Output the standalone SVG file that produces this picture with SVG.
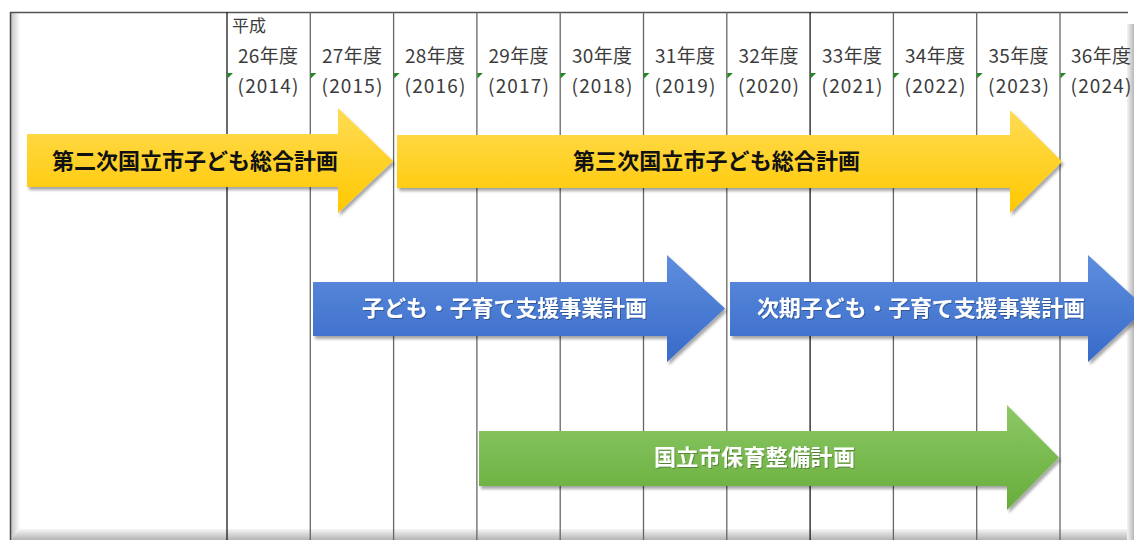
<svg xmlns="http://www.w3.org/2000/svg" width="1134" height="540" viewBox="0 0 1134 540">
  <defs>
    <linearGradient id="gYellow" x1="0" y1="0" x2="0" y2="1">
      <stop offset="0" stop-color="#FFDC55"/>
      <stop offset="1" stop-color="#FFC800"/>
    </linearGradient>
    <linearGradient id="gBlue" x1="0" y1="0" x2="0" y2="1">
      <stop offset="0" stop-color="#5E8EDE"/>
      <stop offset="1" stop-color="#386AC8"/>
    </linearGradient>
    <linearGradient id="gGreen" x1="0" y1="0" x2="0" y2="1">
      <stop offset="0" stop-color="#8CC866"/>
      <stop offset="1" stop-color="#67AD3B"/>
    </linearGradient>
    <linearGradient id="gLeft" x1="0" y1="0" x2="1" y2="0">
      <stop offset="0" stop-color="#c4c4c4"/>
      <stop offset="1" stop-color="#ffffff"/>
    </linearGradient>
    <linearGradient id="gBottom" x1="0" y1="0" x2="0" y2="1">
      <stop offset="0" stop-color="#f6f6f6"/>
      <stop offset="1" stop-color="#b4b4b4"/>
    </linearGradient>
    <linearGradient id="gRight" x1="0" y1="0" x2="1" y2="0">
      <stop offset="0" stop-color="#f4f4f4"/>
      <stop offset="1" stop-color="#b8b8b8"/>
    </linearGradient>
    <filter id="shadow" x="-5%" y="-10%" width="115%" height="130%">
      <feDropShadow dx="2" dy="3" stdDeviation="1.8" flood-color="#000" flood-opacity="0.35"/>
    </filter>
    <filter id="tshadow" x="-5%" y="-20%" width="110%" height="140%">
      <feDropShadow dx="1" dy="1" stdDeviation="0.6" flood-color="#000" flood-opacity="0.3"/>
    </filter>
  </defs>
  <style>
    .grid { stroke: #666; stroke-width: 1.3; fill: none; }
    .gridDark { stroke: #1a1a1a; stroke-width: 1.3; fill: none; }
    .hdr { font-family: "Noto Sans CJK JP", "Liberation Sans", sans-serif; font-size: 19px; fill: #3c3c3c; text-anchor: middle; }
    .era { font-family: "Noto Sans CJK JP", "Liberation Sans", sans-serif; font-size: 17px; fill: #3c3c3c; }
    .tri { fill: #1f8a1f; }
    .lbl { font-family: "Noto Sans CJK JP", "Liberation Sans", sans-serif; font-size: 22px; font-weight: bold; }
    .dark { fill: #111; }
    .light { fill: #ffffff; }
  </style>

  <rect x="0" y="0" width="1134" height="540" fill="#ffffff"/>

  <!-- frame -->
  <g id="frame">
    <rect x="11" y="13" width="9" height="527" fill="url(#gLeft)"/>
    <polygon points="11,540 20,529 1128,529 1134,540" fill="url(#gBottom)"/>
    <rect x="1127" y="24" width="7" height="516" fill="url(#gRight)"/>
    <line x1="10.5" y1="12" x2="10.5" y2="540" stroke="#444" stroke-width="1.5"/>
    <line x1="10" y1="12.5" x2="1128" y2="12.5" stroke="#555" stroke-width="1.3"/>
  </g>

  <!-- grid -->
  <g id="grid">
    <line class="gridDark" x1="227" y1="12" x2="227" y2="540"/>
    <line class="grid" x1="310.3" y1="12" x2="310.3" y2="540"/>
    <line class="grid" x1="393.6" y1="12" x2="393.6" y2="540"/>
    <line class="grid" x1="476.9" y1="12" x2="476.9" y2="540"/>
    <line class="grid" x1="560.2" y1="12" x2="560.2" y2="540"/>
    <line class="grid" x1="643.5" y1="12" x2="643.5" y2="540"/>
    <line class="grid" x1="726.8" y1="12" x2="726.8" y2="540"/>
    <line class="gridDark" x1="810.1" y1="12" x2="810.1" y2="540"/>
    <line class="grid" x1="893.4" y1="12" x2="893.4" y2="540"/>
    <line class="grid" x1="976.7" y1="12" x2="976.7" y2="540"/>
    <line class="grid" x1="1060" y1="12" x2="1060" y2="540"/>
  </g>

  <!-- header -->
  <g id="header">
    <text class="era" x="232" y="32">平成</text>
    <g id="h2014"><text class="hdr" x="268" y="63" textLength="60">26年度</text><polygon class="tri" points="227.5,73 233,73 227.5,78.5"/><text class="hdr" x="268" y="93" textLength="61">(2014)</text></g>
    <g id="h2015"><text class="hdr" x="352" y="63" textLength="60">27年度</text><polygon class="tri" points="310.8,73 316.3,73 310.8,78.5"/><text class="hdr" x="352" y="93" textLength="61">(2015)</text></g>
    <g id="h2016"><text class="hdr" x="435" y="63" textLength="60">28年度</text><polygon class="tri" points="394.1,73 399.6,73 394.1,78.5"/><text class="hdr" x="435" y="93" textLength="61">(2016)</text></g>
    <g id="h2017"><text class="hdr" x="518.5" y="63" textLength="60">29年度</text><polygon class="tri" points="477.4,73 482.9,73 477.4,78.5"/><text class="hdr" x="518.5" y="93" textLength="61">(2017)</text></g>
    <g id="h2018"><text class="hdr" x="602" y="63" textLength="60">30年度</text><polygon class="tri" points="560.7,73 566.2,73 560.7,78.5"/><text class="hdr" x="602" y="93" textLength="61">(2018)</text></g>
    <g id="h2019"><text class="hdr" x="685" y="63" textLength="60">31年度</text><polygon class="tri" points="644,73 649.5,73 644,78.5"/><text class="hdr" x="685" y="93" textLength="61">(2019)</text></g>
    <g id="h2020"><text class="hdr" x="768.5" y="63" textLength="60">32年度</text><polygon class="tri" points="727.3,73 732.8,73 727.3,78.5"/><text class="hdr" x="768.5" y="93" textLength="61">(2020)</text></g>
    <g id="h2021"><text class="hdr" x="852" y="63" textLength="60">33年度</text><polygon class="tri" points="810.6,73 816.1,73 810.6,78.5"/><text class="hdr" x="852" y="93" textLength="61">(2021)</text></g>
    <g id="h2022"><text class="hdr" x="935" y="63" textLength="60">34年度</text><polygon class="tri" points="893.9,73 899.4,73 893.9,78.5"/><text class="hdr" x="935" y="93" textLength="61">(2022)</text></g>
    <g id="h2023"><text class="hdr" x="1018.5" y="63" textLength="60">35年度</text><polygon class="tri" points="977.2,73 982.7,73 977.2,78.5"/><text class="hdr" x="1018.5" y="93" textLength="61">(2023)</text></g>
    <g id="h2024"><text class="hdr" x="1101" y="63" textLength="60">36年度</text><polygon class="tri" points="1060.5,73 1066,73 1060.5,78.5"/><text class="hdr" x="1101" y="93" textLength="61">(2024)</text></g>
  </g>

  <g id="connectors"/>

  <!-- arrows -->
  <g id="plan2">
    <polygon points="27,134 338,134 338,108 393,161 338,213 338,187 27,187" fill="url(#gYellow)" filter="url(#shadow)"/>
    <text class="lbl dark" x="52" y="169" textLength="286">第二次国立市子ども総合計画</text>
  </g>
  <g id="plan3">
    <polygon points="397,135 1010,135 1010,110 1062,161.5 1010,213 1010,188 397,188" fill="url(#gYellow)" filter="url(#shadow)"/>
    <text class="lbl dark" x="573" y="169" textLength="287">第三次国立市子ども総合計画</text>
  </g>
  <g id="support1">
    <polygon points="313,282 667,282 667,255 725,308.5 667,362 667,336 313,336" fill="url(#gBlue)" filter="url(#shadow)"/>
    <text class="lbl light" x="362" y="316" textLength="285" filter="url(#tshadow)">子ども・子育て支援事業計画</text>
  </g>
  <g id="support2">
    <polygon points="730,282 1088,282 1088,255 1146,308.5 1088,362 1088,336 730,336" fill="url(#gBlue)" filter="url(#shadow)"/>
    <text class="lbl light" x="757" y="316" textLength="328" filter="url(#tshadow)">次期子ども・子育て支援事業計画</text>
  </g>
  <g id="nursery">
    <polygon points="479,431 1007,431 1007,405 1059,457.5 1007,510 1007,486 479,486" fill="url(#gGreen)" filter="url(#shadow)"/>
    <text class="lbl light" x="654" y="465" textLength="201" filter="url(#tshadow)">国立市保育整備計画</text>
  </g>
</svg>
